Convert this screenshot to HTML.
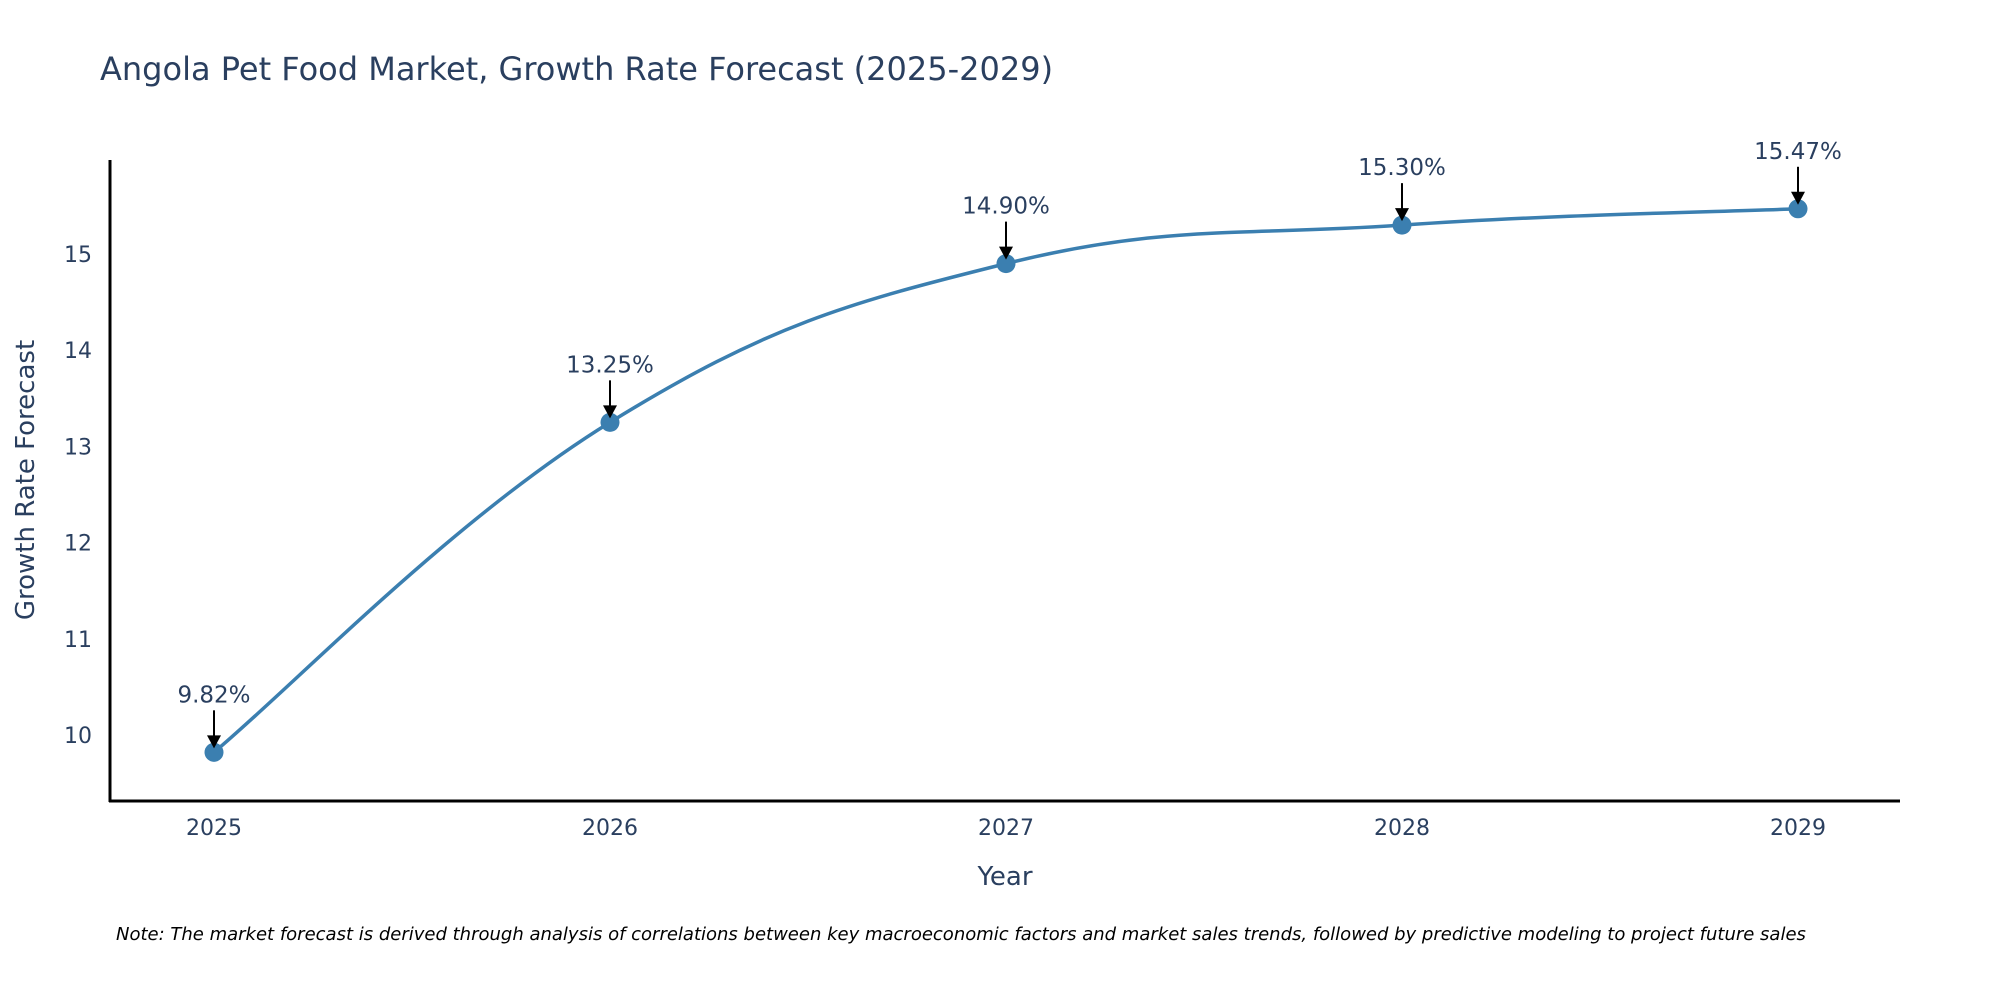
<!DOCTYPE html>
<html><head><meta charset="utf-8"><style>
body{margin:0;background:#fff;overflow:hidden;}
svg{display:block;font-family:"DejaVu Sans","Liberation Sans",sans-serif;}
</style></head><body>
<svg id="chart" width="2000" height="1000">
<text x="100" y="80" font-size="32" fill="#2a3f5f">Angola Pet Food Market, Growth Rate Forecast (2025-2029)</text>
<g id="yticks"></g>
<g id="xticks"></g>
<line x1="110" y1="160" x2="110" y2="802" stroke="#000" stroke-width="3"/>
<line x1="109" y1="801" x2="1900" y2="801" stroke="#000" stroke-width="3"/>
<path id="line" fill="none" stroke="#3b7fb0" stroke-width="3.5"/>
<g id="pts"></g>
<g id="ann"></g>
<text transform="translate(34,480) rotate(-90)" text-anchor="middle" font-size="26" fill="#2a3f5f">Growth Rate Forecast</text>
<text x="1005" y="885" text-anchor="middle" font-size="26" fill="#2a3f5f">Year</text>
<text x="116" y="940" font-size="18" font-style="italic" fill="#000">Note: The market forecast is derived through analysis of correlations between key macroeconomic factors and market sales trends, followed by predictive modeling to project future sales</text>
</svg>
<script>
const years = [2025, 2026, 2027, 2028, 2029];
const values = [9.82, 13.25, 14.90, 15.30, 15.47];
const labels = ["9.82%", "13.25%", "14.90%", "15.30%", "15.47%"];
const yTicks = [10, 11, 12, 13, 14, 15];
const NS = "http://www.w3.org/2000/svg";
const xs = y => 214 + (y - 2025) * 396;
const ys = v => 735 - (v - 10) * 96.2;
function mk(tag, attrs, parent){const e=document.createElementNS(NS,tag);for(const k in attrs)e.setAttribute(k,attrs[k]);parent.appendChild(e);return e;}
const yg=document.getElementById('yticks');
yTicks.forEach(t=>{const e=mk('text',{x:92,y:ys(t)+8,'text-anchor':'end','font-size':22,fill:'#2a3f5f'},yg);


e.textContent=t;});
const xg=document.getElementById('xticks');
years.forEach(y=>{const e=mk('text',{x:xs(y),y:835,'text-anchor':'middle','font-size':22,fill:'#2a3f5f'},xg);


e.textContent=y;});
const P=years.map((y,i)=>[xs(y),ys(values[i])]);
let d=`M${P[0][0]},${P[0][1]}`;const s=0.2;
for(let i=0;i<P.length-1;i++){const p0=P[Math.max(i-1,0)],p1=P[i],p2=P[i+1],p3=P[Math.min(i+2,P.length-1)];
const c1=[p1[0]+(p2[0]-p0[0])*s,p1[1]+(p2[1]-p0[1])*s],c2=[p2[0]-(p3[0]-p1[0])*s,p2[1]-(p3[1]-p1[1])*s];
d+=` C${c1[0]},${c1[1]} ${c2[0]},${c2[1]} ${p2[0]},${p2[1]}`;}
document.getElementById('line').setAttribute('d',d);
const pg=document.getElementById('pts'),ag=document.getElementById('ann');
P.forEach((p,i)=>{const c=mk('circle',{cx:p[0],cy:p[1],r:9.5,fill:'#3b7fb0'},pg);


const l=mk('line',{x1:p[0],y1:p[1]-42,x2:p[0],y2:p[1]-12,stroke:'#000','stroke-width':2},ag);


const a=mk('polygon',{points:`${p[0]-7},${p[1]-17} ${p[0]+7},${p[1]-17} ${p[0]},${p[1]-4}`,fill:'#000'},ag);


const t=mk('text',{x:p[0],y:p[1]-50,'text-anchor':'middle','font-size':23,fill:'#2a3f5f'},ag);


t.textContent=labels[i];});
</script>
</body></html>
